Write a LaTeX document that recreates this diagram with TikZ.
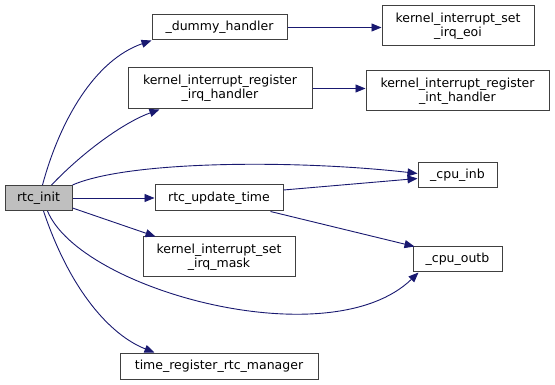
\documentclass[tikz,border=0pt]{standalone}
\usepackage{fontspec}
\setmainfont{DejaVu Sans}
\usepackage{tikz}
\usetikzlibrary{arrows.meta}
\definecolor{edgeblue}{HTML}{191970}
\definecolor{boxgray}{HTML}{404040}
\definecolor{rootfill}{HTML}{BFBFBF}
\tikzset{
	fn/.style={draw=boxgray, line width=1pt, fill=white, align=center,
		font=\fontsize{12.5}{14}\selectfont, inner sep=1pt, minimum height=25pt},
	call/.style={draw=edgeblue, line width=0.9pt, -{Triangle[length=10pt,width=8pt]}}
}

\begin{document}
\begin{tikzpicture}[x=1pt,y=-1pt]
	\useasboundingbox (0,0) rectangle (555,385);

	% caller
	\node[fn, fill=rootfill, minimum width=67pt] (init) at (38.5,198) {rtc\_init};

	% first level callees
	\node[fn, minimum width=135pt] (dummy) at (219.5,27.5) {\_dummy\_handler};
	\node[fn, minimum width=184pt, minimum height=41pt] (irqh) at (220,88.5) {kernel\_interrupt\_register\\\_irq\_handler};
	\node[fn, minimum width=128pt, minimum height=26pt] (upd) at (219,198) {rtc\_update\_time};
	\node[fn, minimum width=152pt, minimum height=40pt] (mask) at (219,257) {kernel\_interrupt\_set\\\_irq\_mask};
	\node[fn, minimum width=198pt, minimum height=26pt] (trm) at (219,366) {time\_register\_rtc\_manager};

	% second level callees
	\node[fn, minimum width=152pt, minimum height=40pt] (eoi) at (458,26) {kernel\_interrupt\_set\\\_irq\_eoi};
	\node[fn, minimum width=183pt, minimum height=40pt] (inth) at (457.5,91) {kernel\_interrupt\_register\\\_int\_handler};
	\node[fn, minimum width=79pt] (inb) at (457.5,175.5) {\_cpu\_inb};
	\node[fn, minimum width=89pt] (outb) at (457.5,259.5) {\_cpu\_outb};

	% calls from rtc_init
	\draw[call] ([xshift=4pt]init.north) .. controls (60,120) and (95,60) .. (dummy.south west);
	\draw[call] ([xshift=13pt]init.north) .. controls (85,150) and (125,122) .. ([xshift=32pt]irqh.south west);
	\draw[call] (init.north east) .. controls (130,160) and (300,160) .. ([yshift=2pt]inb.west);
	\draw[call] (init.east) -- (upd.west);
	\draw[call] ([yshift=-10pt]init.east) -- ([xshift=13pt]mask.north west);
	\draw[call] ([xshift=9pt]init.south) .. controls (80,290) and (330,358) .. ([xshift=6pt]outb.south west);
	\draw[call] ([xshift=5pt]init.south) .. controls (70,290) and (110,335) .. ([xshift=35pt]trm.north west);

	% nested calls
	\draw[call] (dummy.east) -- (eoi.west |- dummy.east);
	\draw[call] (irqh.east) -- (inth.west |- irqh.east);
	\draw[call] ([yshift=8pt]upd.east) -- ([yshift=-3pt]inb.west);
	\draw[call] ([xshift=-13pt]upd.south east) -- ([xshift=2pt]outb.north west);
\end{tikzpicture}
\end{document}
